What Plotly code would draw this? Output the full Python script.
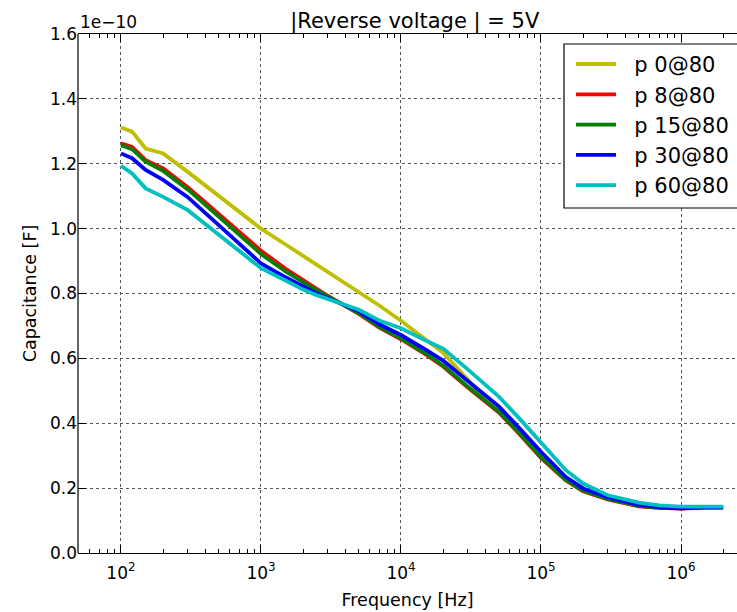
import plotly.graph_objects as go

freq = [100, 120, 150, 200, 300, 500, 700, 1000, 1500, 2000, 2500, 3000, 4000, 5000, 7000,
        1e4, 1.5e4, 2e4, 3e4, 4e4, 5e4, 7e4, 1e5, 1.5e5, 2e5, 3e5, 5e5, 7e5,
        1e6, 1.5e6, 2e6]

# capacitance in units of 1e-10 F
p0 = [1.312, 1.299, 1.247, 1.232, 1.175, 1.100, 1.051, 1.000, 0.951, 0.916, 0.888, 0.866, 0.831, 0.804, 0.763,
      0.716, 0.660, 0.617, 0.535, 0.476, 0.438, 0.368, 0.294, 0.225, 0.191, 0.166, 0.145, 0.140,
      0.138, 0.141, 0.141]
p8 = [1.263, 1.252, 1.211, 1.186, 1.128, 1.045, 0.990, 0.932, 0.876, 0.840, 0.814, 0.793, 0.763, 0.737, 0.695,
      0.659, 0.612, 0.575, 0.510, 0.467, 0.433, 0.367, 0.293, 0.224, 0.190, 0.165, 0.144, 0.139,
      0.137, 0.140, 0.140]
p15 = [1.257, 1.245, 1.206, 1.178, 1.121, 1.037, 0.981, 0.922, 0.868, 0.834, 0.810, 0.791, 0.763, 0.739, 0.697,
       0.662, 0.615, 0.578, 0.513, 0.470, 0.436, 0.370, 0.296, 0.226, 0.192, 0.167, 0.145, 0.140,
       0.138, 0.141, 0.141]
p30 = [1.232, 1.217, 1.181, 1.150, 1.097, 1.010, 0.953, 0.893, 0.850, 0.820, 0.800, 0.786, 0.763, 0.745, 0.705,
       0.672, 0.627, 0.593, 0.530, 0.487, 0.452, 0.385, 0.312, 0.235, 0.199, 0.171, 0.148, 0.141,
       0.138, 0.141, 0.141]
p60 = [1.194, 1.170, 1.124, 1.098, 1.057, 0.981, 0.931, 0.878, 0.840, 0.812, 0.795, 0.783, 0.764, 0.750, 0.717,
       0.693, 0.655, 0.630, 0.566, 0.520, 0.482, 0.415, 0.340, 0.256, 0.214, 0.178, 0.155, 0.147,
       0.143, 0.143, 0.143]

series_names = ["p 0@80", "p 8@80", "p 15@80", "p 30@80", "p 60@80"]
series_vals = [p0, p8, p15, p30, p60]
series_colors = ["#bfbf00", "#ff0000", "#008000", "#0000ff", "#00bfbf"]

x_tickvals = [1e2, 1e3, 1e4, 1e5, 1e6]
x_ticktext = ["10<sup>2</sup>", "10<sup>3</sup>", "10<sup>4</sup>", "10<sup>5</sup>", "10<sup>6</sup>"]
y_tickvals = [0.0, 0.2, 0.4, 0.6, 0.8, 1.0, 1.2, 1.4, 1.6]

minor_vals = [k * 10 ** e for e in range(1, 7) for k in range(2, 10)]

NB = "\u00a0"
fig = go.Figure()
for name, vals, col in zip(series_names, series_vals, series_colors):
    fig.add_trace(go.Scatter(x=freq, y=vals, mode="lines", name=NB * 2 + name,
                             line=dict(color=col, width=3.8)))

FONT = "DejaVu Sans"
PW = 659.0  # plot-area width in px
PH = 519.0  # plot-area height in px

fig.update_layout(
    width=737, height=612,
    margin=dict(l=78, r=0, t=34, b=59),
    paper_bgcolor="white", plot_bgcolor="white",
    font=dict(family=FONT, size=17, color="black"),
    showlegend=True,
    legend=dict(x=(571 - 78) / PW, y=0.981, xanchor="left", yanchor="top",
                borderwidth=0, bgcolor="rgba(0,0,0,0)",
                font=dict(family=FONT, size=21, color="black"),
                itemwidth=40, tracegroupgap=0),
    title=dict(text="|Reverse voltage | = 5V", x=0.511, xref="paper", xanchor="center",
               y=1, yref="paper", yanchor="bottom", pad=dict(b=6),
               font=dict(family=FONT, size=21, color="black")),
    annotations=[dict(text="1e\u221210", x=0, y=1, xref="paper", yref="paper",
                      xanchor="left", yanchor="bottom", showarrow=False,
                      font=dict(family=FONT, size=17, color="black"), yshift=0)],
    shapes=[
        # legend frame (extends past the right edge like the original)
        dict(type="rect", xref="paper", yref="paper",
             x0=(564 - 78) / PW, x1=1.2, y0=(553 - 208) / PH, y1=(553 - 44) / PH,
             fillcolor="white", line=dict(color="black", width=1.2), layer="above"),
        # left spine
        dict(type="line", xref="paper", yref="paper", x0=0, x1=0, y0=0, y1=1,
             line=dict(color="black", width=1.2), layer="above"),
    ],
)
fig.update_xaxes(
    type="log", range=[1.693, 6.4],
    tickvals=x_tickvals, ticktext=x_ticktext,
    ticks="inside", ticklen=8, tickcolor="black", tickwidth=1,
    showline=True, linecolor="black", linewidth=1.2, mirror="allticks",
    showgrid=True, gridcolor="#555555", griddash="dot", gridwidth=1,
    zeroline=False,
    minor=dict(tickvals=minor_vals, ticks="inside", ticklen=4, tickcolor="black", showgrid=False),
    title=dict(text="Frequency [Hz]", font=dict(family=FONT, size=17.5), standoff=12),
    tickfont=dict(family=FONT, size=17),
    ticklabelstandoff=4,
)
fig.update_yaxes(
    range=[0, 1.6], tickvals=y_tickvals, tickformat=".1f",
    ticks="inside", ticklen=8, tickcolor="black", tickwidth=1,
    showline=False, mirror=False,
    showgrid=True, gridcolor="#555555", griddash="dot", gridwidth=1,
    zeroline=False,
    title=dict(text="Capacitance [F]", font=dict(family=FONT, size=17.5), standoff=8),
    tickfont=dict(family=FONT, size=17),
)

fig.write_html("out.html")
